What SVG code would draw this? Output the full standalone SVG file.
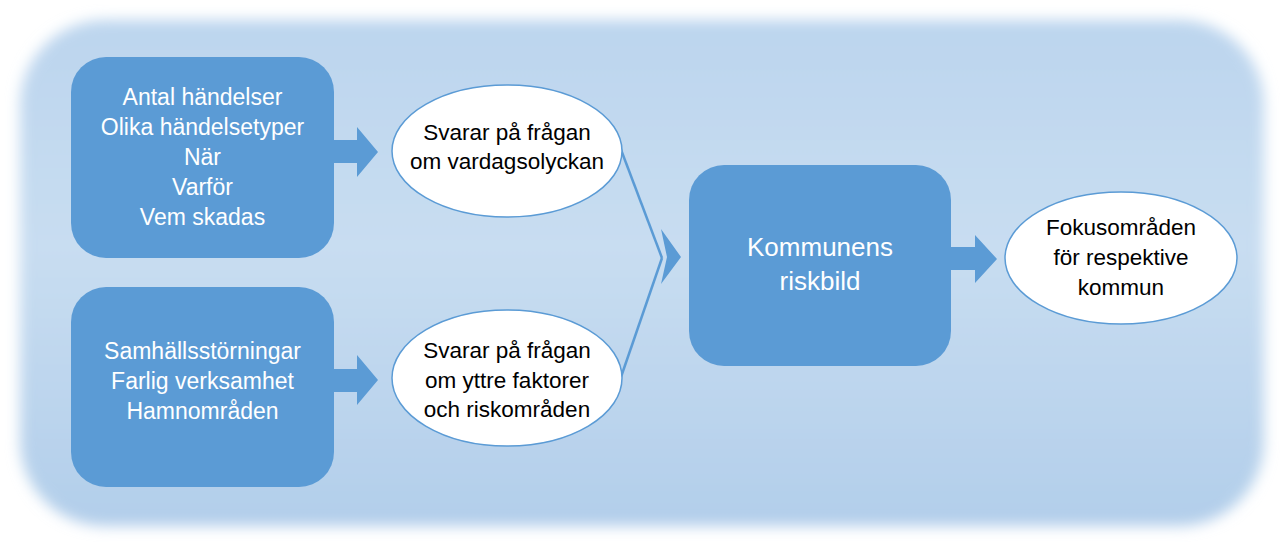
<svg xmlns="http://www.w3.org/2000/svg" width="1284" height="545" viewBox="0 0 1284 545">
  <defs>
    <linearGradient id="bgGrad" x1="0" y1="0" x2="0" y2="1">
      <stop offset="0" stop-color="#bcd5ee"/>
      <stop offset="0.45" stop-color="#c8ddf1"/>
      <stop offset="1" stop-color="#b2ceea"/>
    </linearGradient>
    <filter id="soft" x="-5%" y="-5%" width="110%" height="110%">
      <feGaussianBlur stdDeviation="7"/>
    </filter>
  </defs>
  <style>
    .box { fill: #5b9bd5; }
    .ell { fill: #ffffff; stroke: #5b9bd5; stroke-width: 1.5; }
    .blk { fill: #5b9bd5; }
    .wt { font-family: "Liberation Sans", Arial, sans-serif; font-size: 23px; fill: #ffffff; text-anchor: middle; }
    .bt { font-family: "Liberation Sans", Arial, sans-serif; font-size: 22.5px; fill: #000000; text-anchor: middle; }
    .big { font-size: 26px; }
    .conn { stroke: #5b9bd5; stroke-width: 2.5; fill: none; }
  </style>
  <rect x="0" y="0" width="1284" height="545" fill="#ffffff"/>
  <rect x="20" y="20" width="1244" height="506" rx="85" ry="85" fill="url(#bgGrad)" filter="url(#soft)"/>

  <g id="connectors">
    <polygon class="blk" points="334,140 357,140 357,127 378,152 357,177 357,163 334,163"/>
    <polygon class="blk" points="334,369 357,369 357,355 378,380 357,405 357,392 334,392"/>
    <polygon class="blk" points="951,247 975,247 975,235 997,259 975,283 975,270 951,270"/>
    <line class="conn" x1="620" y1="147" x2="662" y2="258"/>
    <line class="conn" x1="621" y1="377" x2="662" y2="258"/>
    <polygon class="blk" points="661,229 681,257 661,284 667,257"/>
  </g>

  <g id="box1">
    <rect class="box" x="71" y="57" width="263" height="201" rx="35" ry="35"/>
    <text class="wt" x="202.5" y="105">Antal händelser</text>
    <text class="wt" x="202.5" y="135">Olika händelsetyper</text>
    <text class="wt" x="202.5" y="165">När</text>
    <text class="wt" x="202.5" y="195">Varför</text>
    <text class="wt" x="202.5" y="225">Vem skadas</text>
  </g>

  <g id="box2">
    <rect class="box" x="71" y="287" width="263" height="200" rx="35" ry="35"/>
    <text class="wt" x="202.5" y="359">Samhällsstörningar</text>
    <text class="wt" x="202.5" y="389">Farlig verksamhet</text>
    <text class="wt" x="202.5" y="419">Hamnområden</text>
  </g>

  <g id="ellipse1">
    <ellipse class="ell" cx="507" cy="151" rx="115" ry="66"/>
    <text class="bt" x="507" y="140">Svarar på frågan</text>
    <text class="bt" x="507" y="169">om vardagsolyckan</text>
  </g>

  <g id="ellipse2">
    <ellipse class="ell" cx="507" cy="378" rx="115" ry="68"/>
    <text class="bt" x="507" y="358">Svarar på frågan</text>
    <text class="bt" x="507" y="388">om yttre faktorer</text>
    <text class="bt" x="507" y="417">och riskområden</text>
  </g>

  <g id="center">
    <rect class="box" x="689" y="165" width="262" height="201" rx="35" ry="35"/>
    <text class="wt big" x="820" y="256">Kommunens</text>
    <text class="wt big" x="820" y="290">riskbild</text>
  </g>

  <g id="ellipse3">
    <ellipse class="ell" cx="1121" cy="258" rx="116" ry="66"/>
    <text class="bt" x="1121" y="235">Fokusområden</text>
    <text class="bt" x="1121" y="265">för respektive</text>
    <text class="bt" x="1121" y="295">kommun</text>
  </g>
</svg>
